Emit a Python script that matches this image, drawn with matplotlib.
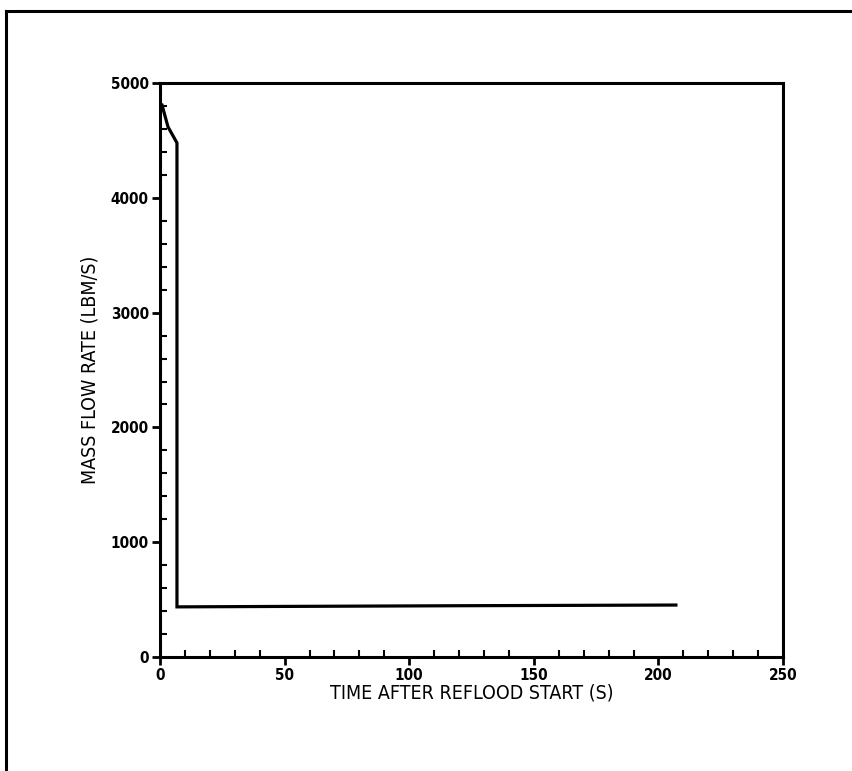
import matplotlib.pyplot as plt
from matplotlib.ticker import MultipleLocator
from matplotlib.lines import Line2D

# reflood mass flow rate
time_s = [0.8, 3.2, 6.8, 6.8, 50, 120, 207]
flow_lbm_s = [4810, 4620, 4480, 436, 440, 446, 452]

x_ticks = [0, 50, 100, 150, 200, 250]
y_ticks = [0, 1000, 2000, 3000, 4000, 5000]

plt.rcParams["font.family"] = ["DejaVu Sans"]
plt.rcParams["font.stretch"] = "condensed"

fig = plt.figure(figsize=(8.53, 7.71), dpi=100)
ax = fig.add_axes([0.1876, 0.148, 0.7304, 0.744])

ax.plot(time_s, flow_lbm_s, color="black", linewidth=2.3, solid_joinstyle="miter")

ax.set_xlim(0, 250)
ax.set_ylim(0, 5000)
ax.set_xticks(x_ticks)
ax.set_yticks(y_ticks)
ax.xaxis.set_minor_locator(MultipleLocator(10))
ax.yaxis.set_minor_locator(MultipleLocator(200))
ax.tick_params(which="major", direction="out", length=6, width=2, labelsize=11, pad=2)
ax.tick_params(which="minor", direction="in", length=5, width=1.5)
for lab in ax.get_xticklabels() + ax.get_yticklabels():
    lab.set_fontweight("bold")
for s in ax.spines.values():
    s.set_linewidth(2.2)

ax.set_xlabel("TIME AFTER REFLOOD START (S)", fontsize=14, labelpad=0)
ax.set_ylabel("MASS FLOW RATE (LBM/S)", fontsize=14, labelpad=8)

# page frame (left and top edges of the scanned box)
fig.add_artist(Line2D([0.007, 0.007], [0.0, 0.986], transform=fig.transFigure,
                      color="black", linewidth=2.2))
fig.add_artist(Line2D([0.007, 1.0], [0.986, 0.986], transform=fig.transFigure,
                      color="black", linewidth=2.2))

fig.savefig("out.png", dpi=100)
